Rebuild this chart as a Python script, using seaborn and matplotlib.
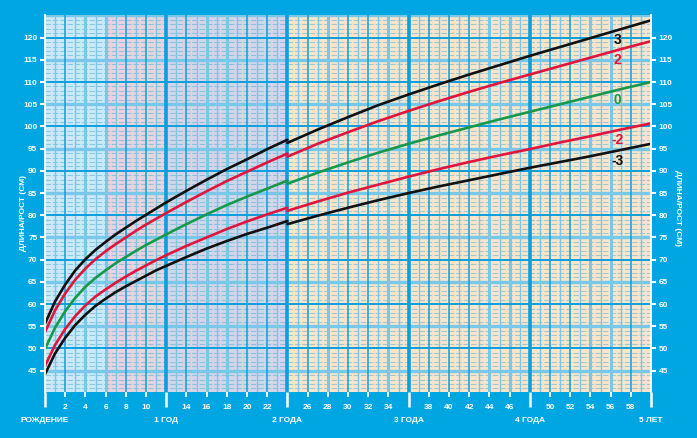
import numpy as np
import pandas as pd
import seaborn as sns
import matplotlib.pyplot as plt
from matplotlib.transforms import blended_transform_factory

## data: length/height (cm) by age (months)
months_a = [0, 1, 2, 3, 4, 5, 6, 7, 8, 9, 10, 11, 12, 14, 16, 18, 20, 22, 24]
months_b = [24, 27, 30, 33, 36, 39, 42, 45, 48, 51, 54, 57, 60]

z3_a = [55.6, 60.6, 64.4, 67.6, 70.1, 72.2, 74.0, 75.7, 77.2, 78.7, 80.1, 81.5, 82.9, 85.5, 88.0, 90.4, 92.6, 94.9, 97.0]
z2_a = [53.7, 58.6, 62.4, 65.5, 68.0, 70.1, 71.9, 73.5, 75.0, 76.5, 77.9, 79.2, 80.5, 83.0, 85.4, 87.7, 89.8, 91.9, 93.9]
z0_a = [49.9, 54.7, 58.4, 61.4, 63.9, 65.9, 67.6, 69.2, 70.6, 72.0, 73.3, 74.5, 75.7, 78.0, 80.2, 82.3, 84.2, 86.0, 87.8]
zm2_a = [46.1, 50.8, 54.4, 57.3, 59.7, 61.7, 63.3, 64.8, 66.2, 67.5, 68.7, 69.9, 71.0, 73.1, 75.0, 76.9, 78.6, 80.2, 81.7]
zm3_a = [44.2, 48.9, 52.4, 55.3, 57.6, 59.6, 61.2, 62.7, 64.0, 65.2, 66.4, 67.6, 68.6, 70.6, 72.5, 74.2, 75.8, 77.2, 78.7]

z3_b = [96.3, 99.3, 102.1, 104.8, 107.2, 109.5, 111.7, 113.8, 115.9, 117.9, 119.9, 121.9, 123.9]
z2_b = [93.2, 96.1, 98.7, 101.2, 103.5, 105.7, 107.8, 109.8, 111.7, 113.6, 115.5, 117.4, 119.2]
z0_b = [87.1, 89.6, 91.9, 94.1, 96.1, 98.0, 99.8, 101.6, 103.3, 105.0, 106.7, 108.4, 110.0]
zm2_b = [81.0, 83.1, 85.1, 86.9, 88.7, 90.4, 92.0, 93.5, 94.9, 96.4, 97.8, 99.3, 100.7]
zm3_b = [78.0, 79.9, 81.7, 83.4, 85.0, 86.5, 87.9, 89.3, 90.7, 92.0, 93.3, 94.7, 96.1]

z_labels = ["3", "2", "0", "-2", "-3"]
year_labels = ["РОЖДЕНИЕ", "1 ГОД", "2 ГОДА", "3 ГОДА", "4 ГОДА", "5 ЛЕТ"]
y_title = "ДЛИНА/РОСТ (СМ)"

## colours
BG = "#00a6e2"
BLUE = "#0c9fde"
LIGHT = "#79c8e9"
z_colors = {"3": "#111111", "2": "#e0163c", "0": "#18984a", "-2": "#e0163c", "-3": "#111111"}
bands = [(0, 6, "#cde9f6"), (6, 12, "#e8d4df"), (12, 24, "#d4d6e7"), (24, 60, "#f9e5ca")]
wide_months = [4, 6, 16, 18, 28, 34, 44, 46, 54, 56]

#%% long table
rows = []
series_a = dict(zip(z_labels, [z3_a, z2_a, z0_a, zm2_a, zm3_a]))
series_b = dict(zip(z_labels, [z3_b, z2_b, z0_b, zm2_b, zm3_b]))
for z in z_labels:
    for m, v in zip(months_a, series_a[z]):
        rows.append({"month": m, "cm": v, "z": z, "seg": "length"})
    for m, v in zip(months_b, series_b[z]):
        rows.append({"month": m, "cm": v, "z": z, "seg": "height"})
df = pd.DataFrame(rows)

#%% figure
sns.set_style("white")
plt.rcParams["font.family"] = ["Liberation Sans Narrow", "Liberation Sans", "DejaVu Sans"]
plt.rcParams["font.weight"] = "bold"

fig = plt.figure(figsize=(6.97, 4.38), dpi=100, facecolor=BG)
ax = fig.add_axes([45 / 697, 1 - 392 / 438, 606 / 697, 377 / 438])
ax.set_xlim(0, 60)
ax.set_ylim(40.2, 125.1)

for x0, x1, c in bands:
    ax.axvspan(x0, x1, color=c, lw=0, zorder=0)

# horizontal grid
for cm in range(41, 126):
    if cm % 10 == 0:
        ax.axhline(cm, color=BLUE, lw=1.4, zorder=2.5)
    elif cm % 5 == 0:
        ax.axhline(cm, color=LIGHT, lw=2.4, zorder=1.5)
    else:
        ax.axhline(cm, color="#3aa6d6", alpha=0.45, lw=0.8, ls=(0, (5, 1.6)), zorder=1)

# vertical grid
for m in range(1, 60):
    if m % 12 == 0:
        ax.axvline(m, color=BLUE, lw=2.6, zorder=2)
    elif m in wide_months:
        ax.axvline(m, color=LIGHT, lw=2.2, zorder=2)
    elif m % 2 == 0:
        ax.axvline(m, color=BLUE, lw=1.1, zorder=2)
    else:
        ax.axvline(m, color=LIGHT, lw=1.0, zorder=2)

sns.lineplot(
    data=df,
    x="month",
    y="cm",
    hue="z",
    units="seg",
    estimator=None,
    palette=z_colors,
    lw=1.9,
    legend=False,
    ax=ax,
    zorder=5,
)

# z-score labels near the right end
for z in z_labels:
    yv = np.interp(57, months_b, series_b[z]) - 2.4
    ax.text(56.7, yv, z, color=z_colors[z], fontsize=10, fontweight="bold",
            ha="center", va="center", zorder=6, family=["Liberation Sans", "DejaVu Sans"])

## axes styling
for side in ["top", "bottom"]:
    ax.spines[side].set_visible(False)
for side in ["left", "right"]:
    ax.spines[side].set_color("white")
    ax.spines[side].set_linewidth(1.3)
    ax.spines[side].set_zorder(7)

ax.set_xlabel("")
ax.set_ylabel("")
ax.set_yticks(range(45, 121, 5))
ax.tick_params(axis="y", which="major", left=True, right=True, labelleft=True, labelright=True,
               colors="white", labelsize=6, length=3.5, width=1.5, pad=2)

month_ticks = [m for m in range(2, 60, 2) if m % 12 != 0]
ax.set_xticks(month_ticks)
ax.set_xticklabels([str(m) for m in month_ticks])
ax.set_xticks(range(0, 61, 12), minor=True)
ax.tick_params(axis="x", which="major", bottom=True, colors="white", labelsize=6,
               length=3.5, width=1.3, pad=5)
ax.tick_params(axis="x", which="minor", bottom=True, colors="white", length=11, width=1.8)
for tick, m in zip(ax.xaxis.get_major_ticks(), month_ticks):
    if m in wide_months:
        tick.tick1line.set_color(LIGHT)

trans = blended_transform_factory(ax.transData, ax.transAxes)
for i, lab in enumerate(year_labels):
    ax.text(i * 12, -0.076, lab, transform=trans, ha="center", va="center",
            color="white", fontsize=6, fontweight="bold")

fig.text(24 / 697, 1 - 213 / 438, y_title, rotation=90, ha="center", va="center",
         color="white", fontsize=6, fontweight="bold")
fig.text(678 / 697, 1 - 208 / 438, y_title, rotation=270, ha="center", va="center",
         color="white", fontsize=6, fontweight="bold")

fig.savefig("out.png", dpi=100, facecolor=BG)
